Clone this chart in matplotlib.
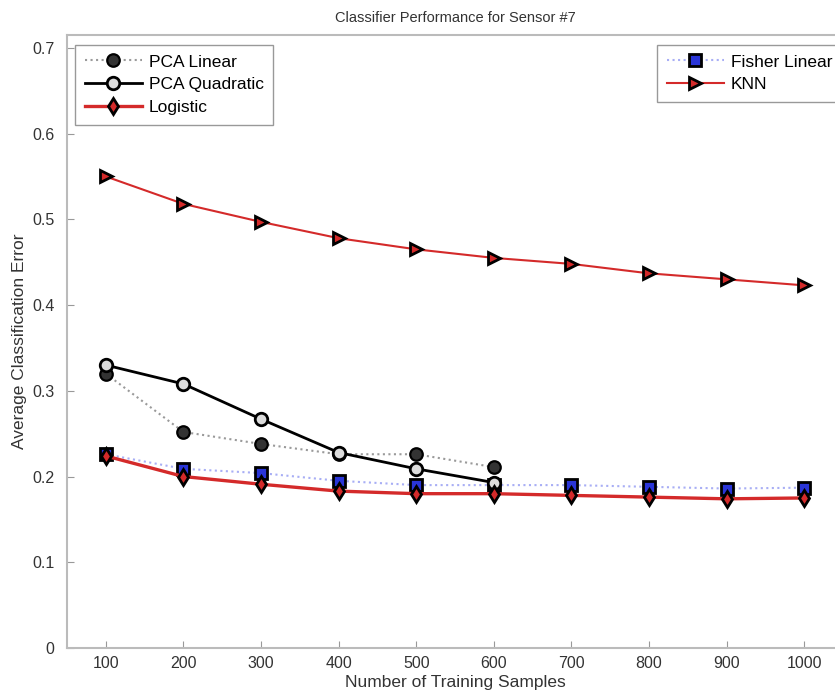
import numpy as np
import matplotlib.pyplot as plt

plt.rcParams['font.family'] = ['Liberation Sans', 'DejaVu Sans']

samples = [100, 200, 300, 400, 500, 600, 700, 800, 900, 1000]
pca_linear = [0.320, 0.252, 0.238, 0.226, 0.226, 0.211]
pca_quadratic = [0.330, 0.308, 0.267, 0.228, 0.209, 0.193]
logistic = [0.224, 0.200, 0.191, 0.183, 0.180, 0.180, 0.178, 0.176, 0.174, 0.175]
fisher_linear = [0.226, 0.209, 0.204, 0.195, 0.190, 0.190, 0.190, 0.188, 0.186, 0.187]
knn = [0.550, 0.518, 0.497, 0.478, 0.465, 0.455, 0.448, 0.437, 0.430, 0.423]

fig = plt.figure(figsize=(8.35, 6.98), dpi=100)
ax = fig.add_axes([67/835, 50/698, 776/835, 613/698])

red = '#d42a2a'
h_fl, = ax.plot(samples, fisher_linear, ls=':', color='#a8aef5', lw=1.5,
                marker='s', ms=8, mfc='#2a35d8', mec='black', mew=2, label='Fisher Linear')
h_pl, = ax.plot(samples[:6], pca_linear, ls=':', color='#9a9a9a', lw=1.5,
                marker='o', ms=9, mfc='#333333', mec='black', mew=1.6, label='PCA Linear')
h_pq, = ax.plot(samples[:6], pca_quadratic, ls='-', color='black', lw=2,
                marker='o', ms=9, mfc='#dcdcdc', mec='black', mew=2, label='PCA Quadratic')
h_lg, = ax.plot(samples, logistic, ls='-', color=red, lw=2.4,
                marker='d', ms=8, mfc=red, mec='black', mew=2, label='Logistic')
h_kn, = ax.plot(samples, knn, ls='-', color=red, lw=1.5,
                marker='>', ms=9, mfc=red, mec='black', mew=2, label='KNN')

ax.set_xlim(50, 1050)
ax.set_ylim(0, 0.715)
ax.set_xticks(samples)
ax.set_yticks(np.arange(0, 0.71, 0.1))
ax.set_yticklabels(['0', '0.1', '0.2', '0.3', '0.4', '0.5', '0.6', '0.7'])
ax.tick_params(direction='in', length=5, color='#999999', labelsize=11.5, labelcolor='#333333')
ax.tick_params(axis='x', pad=6)
ax.tick_params(axis='y', pad=9)
for s in ax.spines.values():
    s.set_color('#bbbbbb')
    s.set_linewidth(1.5)

ax.set_title('Classifier Performance for Sensor #7', fontsize=10.5, color='#333333', pad=9)
ax.set_xlabel('Number of Training Samples', fontsize=12.5, color='#333333', labelpad=3)
ax.set_ylabel('Average Classification Error', fontsize=12.5, color='#333333', labelpad=4)

leg_kw = dict(fontsize=12.5, fancybox=False, edgecolor='#999999', framealpha=1,
              handlelength=3.3, handletextpad=0.4, labelspacing=0.45, borderpad=0.55)
leg1 = ax.legend(handles=[h_pl, h_pq, h_lg], loc='upper left',
                 bbox_to_anchor=(8/776, 0.984), borderaxespad=0, **leg_kw)
ax.add_artist(leg1)
ax.legend(handles=[h_fl, h_kn], loc='upper left', bbox_to_anchor=(590/776, 0.984),
          borderaxespad=0, **leg_kw)

fig.savefig('out.png', dpi=100)
